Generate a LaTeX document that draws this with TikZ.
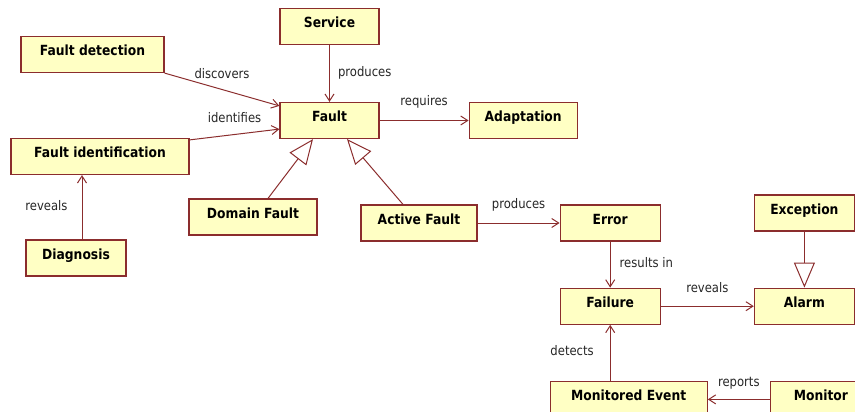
\documentclass[tikz,border=0pt]{standalone}
\usepackage{fontspec}
\setmainfont{DejaVu Sans}[FakeStretch=0.88]
\usepackage{xcolor}
\usetikzlibrary{positioning, arrows.meta}
\definecolor{umlborder}{HTML}{8B2D2D}
\definecolor{umlfill}{HTML}{FFFFC4}

\begin{document}
\begin{tikzpicture}[x=1pt, y=-1pt,
  box/.style={draw=umlborder, fill=umlfill, line width=1.2pt, minimum height=36pt,
    text height=10pt, text depth=8pt, inner sep=0pt,
    font=\fontsize{14}{16}\selectfont\bfseries},
  lbl/.style={font=\fontsize{13.2}{15}\selectfont, text=black!85, inner sep=1pt,
    text height=9pt, text depth=3pt},
  assoc/.style={draw=umlborder, line width=1pt, -{Straight Barb[length=7pt, width=9pt]}},
  gen/.style={draw=umlborder, line width=1pt, -{Triangle[open, length=25pt, width=21pt]}}]

  \useasboundingbox (0,0) rectangle (855,412);
  \clip (0,0) rectangle (855,412);

  % left part
  \node[box, minimum width=99pt] (fault) at (329.5,120.5) {Fault};
  \node[box, minimum width=99pt, above=57pt of fault] (serv) {Service};
  \node[box, minimum width=108pt, right=89pt of fault] (adapt) {Adaptation};
  \node[box, minimum width=143pt] (fdet) at (92.5,54.5) {Fault detection};
  \node[box, minimum width=178pt] (fid) at (100,156.5) {Fault identification};
  \node[box, minimum width=100pt] (diag) at (76,258) {Diagnosis};
  \node[box, minimum width=128pt] (dom) at (253,217) {Domain Fault};
  \node[box, minimum width=116pt] (act) at (419,223) {Active Fault};

  % right part
  \node[box, minimum width=100pt, right=82pt of act] (err) {Error};
  \node[box, minimum width=100pt, below=46pt of err] (fail) {Failure};
  \node[box, minimum width=100pt, right=93pt of fail] (alarm) {Alarm};
  \node[box, minimum width=100pt, above=56pt of alarm] (exc) {Exception};
  \node[box, minimum width=157pt, below=56pt of fail, xshift=18.5pt] (mev) {Monitored Event};
  \node[box, minimum width=101pt, right=62pt of mev] (mon) {Monitor};

  \draw[assoc] (serv) -- node[lbl, right=7pt] {produces} (fault);
  \draw[assoc] (fdet.south east) -- node[lbl, above=7pt] {discovers} ([yshift=-4pt]fault.north west);
  \draw[assoc] ([yshift=-2pt]fid.north east) -- node[lbl, above=7pt] {identifies} ([yshift=10pt]fault.south west);
  \draw[assoc] (fault) -- node[lbl, above=10pt] {requires} (adapt);
  \draw[gen] ([xshift=15pt]dom.north) -- ([xshift=-16.5pt]fault.south);
  \draw[gen] ([xshift=-16pt]act.north) -- ([xshift=17.5pt]fault.south);
  \draw[assoc] ([xshift=6pt]diag.north) -- node[lbl, left=13pt] {reveals} ([xshift=-18pt]fid.south);
  \draw[assoc] (act) -- node[lbl, above=10pt] {produces} (act -| err.west);
  \draw[assoc] (err) -- node[lbl, right=8pt] {results in} (fail);
  \draw[assoc] (fail) -- node[lbl, above=9pt] {reveals} (alarm);
  \draw[gen] (exc) -- (alarm);
  \draw[assoc] (mev.north -| fail.south) -- node[lbl, left=15pt] {detects} (fail.south);
  \draw[assoc] (mon) -- node[lbl, above=8pt] {reports} (mev);
\end{tikzpicture}
\end{document}
